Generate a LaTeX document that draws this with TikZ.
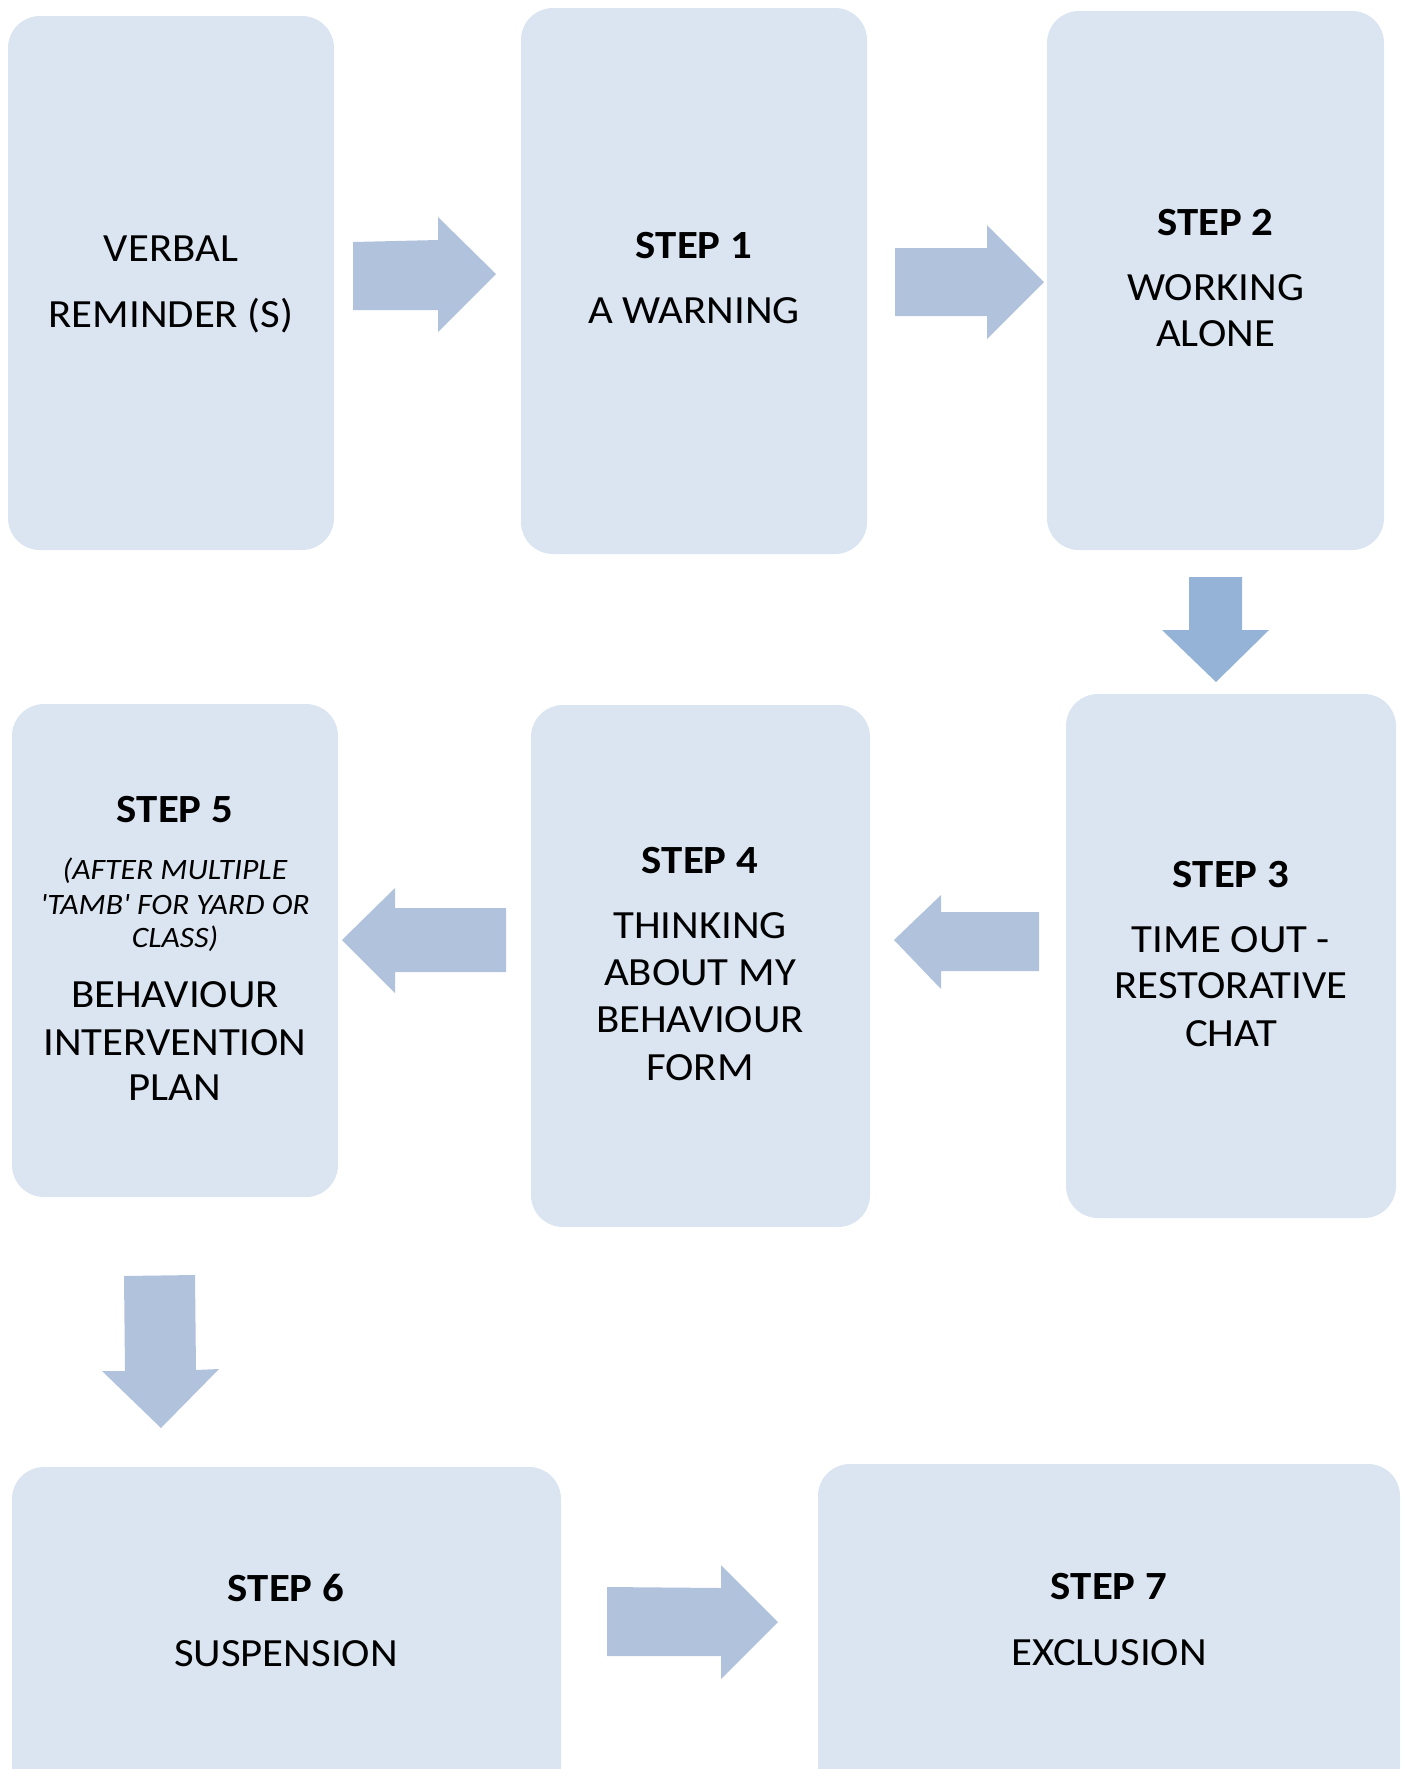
\documentclass[tikz,border=0pt]{standalone}
\usepackage{fontspec}
\setmainfont[FakeStretch=1.07]{Carlito}
\newfontfamily\notefont[FakeStretch=1.07]{Carlito}
\usetikzlibrary{fit}
\definecolor{boxfill}{HTML}{DBE5F1}
\definecolor{arrowfill}{HTML}{B1C2DD}
\definecolor{arrowdark}{HTML}{95B3D7}
\begin{document}
\begin{tikzpicture}[x=0.5pt,y=-0.5pt,
  stepbox/.style={fill=boxfill, draw=none, rounded corners=16pt, inner sep=0pt},
  blockarrow/.style={fill=arrowfill, draw=none},
  darkarrow/.style={fill=arrowdark, draw=none},
  txt/.style={anchor=base, inner sep=0pt, font=\fontsize{20}{24}\selectfont},
  ttl/.style={anchor=base, inner sep=0pt, font=\fontsize{20}{24}\selectfont\bfseries},
  note/.style={anchor=base, inner sep=0pt, font=\notefont\fontsize{14.8}{17}\selectfont\itshape}]
\useasboundingbox (0,0) rectangle (1405,1769);
\clip (0,0) rectangle (1405,1769);
% boxes
\node[stepbox, fit={(8,16) (334,550)}] (b0) {};
\node[stepbox, fit={(521,8) (867,554)}] (b1) {};
\node[stepbox, fit={(1047,11) (1384,550)}] (b2) {};
\node[stepbox, fit={(1066,694) (1396,1218)}] (b3) {};
\node[stepbox, fit={(531,705) (870,1227)}] (b4) {};
\node[stepbox, fit={(12,704) (338,1197)}] (b5) {};
\node[stepbox, fit={(12,1467) (561,1800)}] (b6) {};
\node[stepbox, fit={(818,1464) (1400,1800)}] (b7) {};
% arrows
\fill[blockarrow] (353,242) -- (438,240) -- (438,217) -- (496,274) -- (438,332) -- (438,310) -- (353,310) -- cycle;
\fill[blockarrow] (895,248) -- (987,248) -- (987,225) -- (1044,282) -- (987,339) -- (987,316) -- (895,316) -- cycle;
\fill[darkarrow] (1189,577) -- (1242,577) -- (1242,630) -- (1269,630) -- (1216,682) -- (1162,630) -- (1189,630) -- cycle;
\fill[blockarrow] (1039,912) -- (941,912) -- (941,895) -- (894,940) -- (941,989) -- (941,971) -- (1039,971) -- cycle;
\fill[blockarrow] (506,908) -- (395,908) -- (395,888) -- (342,940) -- (395,993) -- (395,972) -- (506,972) -- cycle;
\fill[blockarrow] (124,1276) -- (195,1275) -- (196,1370) -- (219,1369) -- (161,1428) -- (102,1371) -- (125,1371) -- cycle;
\fill[blockarrow] (607,1587) -- (721,1588) -- (721,1565) -- (778,1622) -- (721,1679) -- (721,1656) -- (607,1656) -- cycle;
% texts
\node[txt] (t0a) at (171,261) {VERBAL};
\node[txt] (t0b) at (171,327) {REMINDER (S)};
\node[ttl] (t1a) at (694,258.5) {STEP 1};
\node[txt] (t1b) at (694,323.5) {A WARNING};
\node[ttl] (t2a) at (1215.5,235) {STEP 2};
\node[txt] (t2b) at (1215.5,300.5) {WORKING};
\node[txt] (t2c) at (1215.5,346.5) {ALONE};
\node[ttl] (t3a) at (1231,887.5) {STEP 3};
\node[txt] (t3b) at (1231,952.5) {TIME OUT -};
\node[txt] (t3c) at (1231,998.5) {RESTORATIVE};
\node[txt] (t3d) at (1231,1046.5) {CHAT};
\node[ttl] (t4a) at (700,873.5) {STEP 4};
\node[txt] (t4b) at (700,938.5) {THINKING};
\node[txt] (t4c) at (700,985.5) {ABOUT MY};
\node[txt] (t4d) at (700,1032.5) {BEHAVIOUR};
\node[txt] (t4e) at (700,1080.5) {FORM};
\node[ttl] (t5a) at (175,822.5) {STEP 5};
\node[note] (t5b) at (175,879.5) {(AFTER MULTIPLE};
\node[note] (t5c) at (175,914.5) {'TAMB' FOR YARD OR};
\node[note] (t5d) at (175,947.5) {CLASS)};
\node[txt] (t5e) at (175,1007.5) {BEHAVIOUR};
\node[txt] (t5f) at (175,1055.5) {INTERVENTION};
\node[txt] (t5g) at (175,1100.5) {PLAN};
\node[ttl] (t6a) at (286,1601.5) {STEP 6};
\node[txt] (t6b) at (286,1666.5) {SUSPENSION};
\node[ttl] (t7a) at (1109,1599.5) {STEP 7};
\node[txt] (t7b) at (1109,1665.5) {EXCLUSION};
\end{tikzpicture}
\end{document}
